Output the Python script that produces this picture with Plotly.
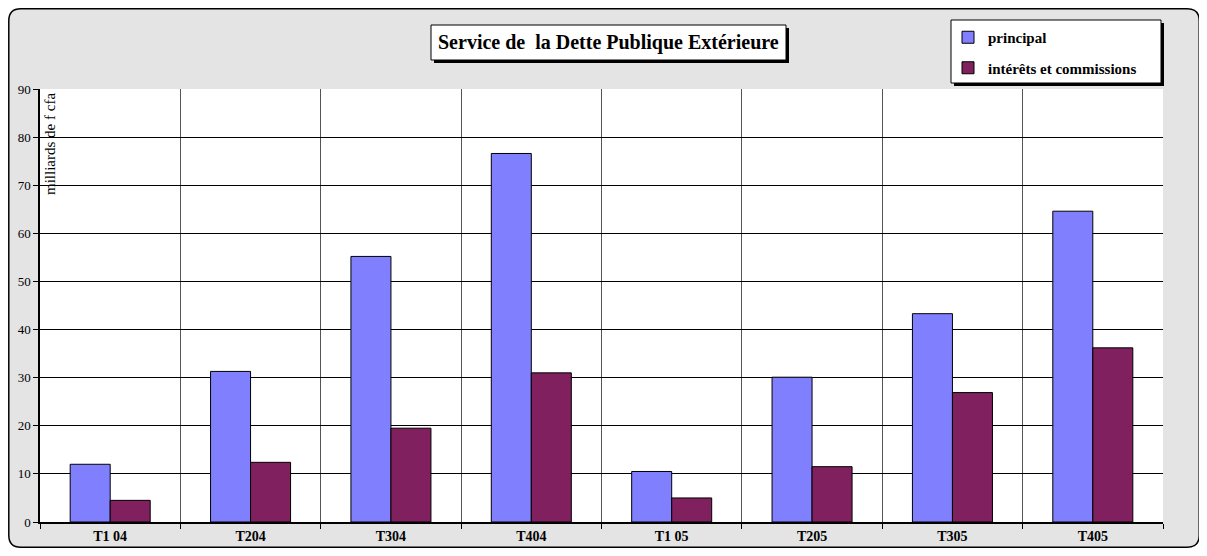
import plotly.graph_objects as go

categories = ["T1 04", "T204", "T304", "T404", "T1 05", "T205", "T305", "T405"]
principal = [12.0, 31.3, 55.2, 76.6, 10.5, 30.1, 43.3, 64.6]
interets = [4.5, 12.4, 19.5, 31.0, 5.0, 11.5, 26.9, 36.2]
series_names = ["principal", "intérêts et commissions"]
title_text = "Service de\u00a0\u00a0la Dette Publique Extérieure"
y_title = "milliards de f cfa"

# the page body has an 8px margin, so the figure starts at (8, 8) of the window
OFF = 8
W, H = 1207 - 2 * OFF, 556 - 2 * OFF
PLOT_L, PLOT_R, PLOT_T, PLOT_B = 40, 1163, 89, 522   # window pixels
ML, MR = PLOT_L - OFF, (W + OFF) - PLOT_R
MT, MB = PLOT_T - OFF, (H + OFF) - PLOT_B
PW, PH = PLOT_R - PLOT_L, PLOT_B - PLOT_T

def px(x):
    return (x - PLOT_L) / PW

def py(y):
    return (PLOT_B - y) / PH

FONT = "Liberation Serif"

fig = go.Figure()
fig.add_trace(go.Bar(x=categories, y=principal, name=f"<b>{series_names[0]}</b>", legendgroup="a",
                     marker=dict(color="#8080FF", line=dict(color="#000000", width=1))))
fig.add_trace(go.Bar(x=categories, y=interets, name=f"<b>{series_names[1]}</b>", legendgroup="b",
                     marker=dict(color="#80205F", line=dict(color="#000000", width=1))))

# rounded outer frame
x0, x1, y0, y1 = px(8.8), px(1199.2), py(547.2), py(8.8)
rx, ry = 12 / PW, 12 / PH
path = (f"M {x0+rx},{y1} L {x1-rx},{y1} Q {x1},{y1} {x1},{y1-ry} "
        f"L {x1},{y0+ry} Q {x1},{y0} {x1-rx},{y0} L {x0+rx},{y0} "
        f"Q {x0},{y0} {x0},{y0+ry} L {x0},{y1-ry} Q {x0},{y1} {x0+rx},{y1} Z")

def boxed(l, t, r, b, sh=3):
    return [
        dict(type="rect", xref="paper", yref="paper", x0=px(l + sh), x1=px(r + sh),
             y0=py(b + sh), y1=py(t + sh), fillcolor="#000000", line=dict(width=0), layer="above"),
        dict(type="rect", xref="paper", yref="paper", x0=px(l), x1=px(r), y0=py(b), y1=py(t),
             fillcolor="#ffffff", line=dict(color="#000000", width=1), layer="above"),
    ]

shapes = [
    dict(type="path", path=path, xref="paper", yref="paper", fillcolor="#e4e4e4",
         line=dict(color="#000000", width=1.5), layer="below"),
    dict(type="rect", xref="paper", yref="paper", x0=0, x1=1, y0=0, y1=1,
         fillcolor="#ffffff", line=dict(width=0), layer="below"),
] + boxed(431, 25, 786, 60) + boxed(951, 20, 1161, 83)

annotations = [
    dict(text=f"<b>{title_text}</b>", xref="paper", yref="paper", x=px(608.5), y=py(42.5),
         xanchor="center", yanchor="middle", showarrow=False,
         font=dict(family=FONT, size=20, color="#000000")),
    dict(text=y_title, xref="paper", yref="paper", x=0, y=1, xanchor="left", yanchor="top",
         xshift=0, yshift=-2, textangle=-90, showarrow=False,
         font=dict(family=FONT, size=15, color="#000000")),
]

fig.update_layout(
    width=W, height=H,
    margin=dict(l=ML, r=MR, t=MT, b=MB, pad=0, autoexpand=False),
    paper_bgcolor="#ffffff", plot_bgcolor="#ffffff",
    barmode="group", bargap=0.43, bargroupgap=0,
    font=dict(family=FONT, size=13, color="#000000"),
    showlegend=True,
    legend=dict(x=px(948), y=py(21), xanchor="left", yanchor="top",
                bgcolor="rgba(0,0,0,0)", borderwidth=0, tracegroupgap=8,
                font=dict(family=FONT, size=15, color="#000000"),
                itemclick=False, itemdoubleclick=False),
    shapes=shapes, annotations=annotations,
    xaxis=dict(type="category", tickson="boundaries", showgrid=True, gridcolor="#555555",
               gridwidth=1, ticks="outside", ticklen=5, tickcolor="#000000",
               showline=True, linecolor="#000000", linewidth=1.5, mirror=False,
               automargin=False,
               tickfont=dict(family=FONT, size=14, color="#000000", weight="bold"),
               fixedrange=True),
    yaxis=dict(range=[0, 90], dtick=10, showgrid=True, gridcolor="#000000", gridwidth=1,
               ticks="outside", ticklen=5, tickcolor="#000000",
               showline=True, linecolor="#000000", linewidth=1.5, zeroline=False,
               automargin=False,
               tickfont=dict(family=FONT, size=13, color="#000000"), fixedrange=True),
)

fig.write_html("out.html")
